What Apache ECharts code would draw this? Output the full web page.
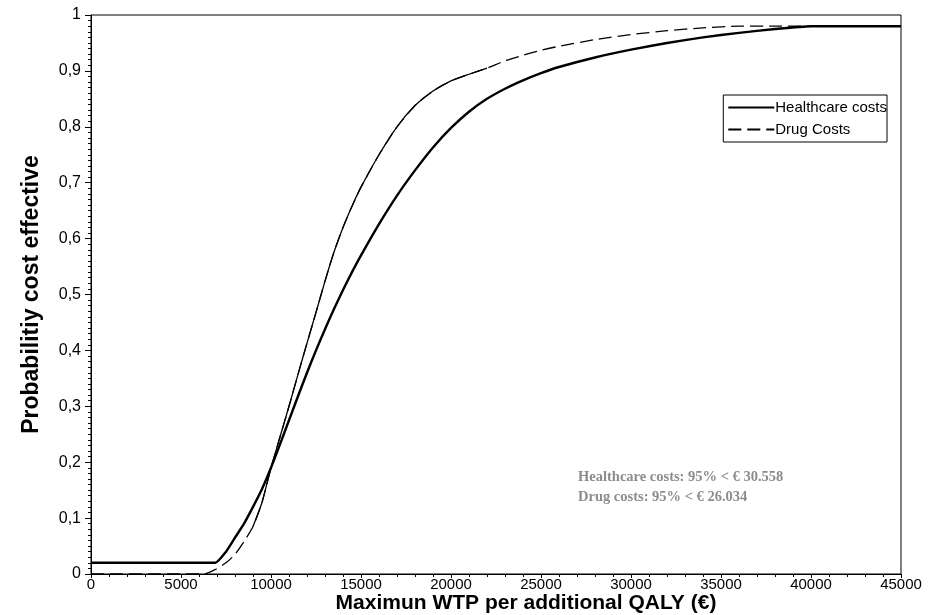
<!DOCTYPE html>
<html>
<head>
<meta charset="utf-8">
<script src="https://cdn.jsdelivr.net/npm/echarts@6/dist/echarts.min.js"></script>
<style>
  html, body { margin: 0; padding: 0; background: #fff; }
  #main { width: 935px; height: 615px; }
</style>
</head>
<body>
<div id="main"></div>
<script>
// WTP thresholds (euro) and probability of being cost effective
var wtp = [0, 5000, 6300, 6900, 7500, 8000, 8500, 9000, 9500, 10000, 10500, 11000, 11500, 12000,
  12500, 13000, 13500, 14000, 14500, 15000, 16000, 17000, 18000, 19000, 20000, 21000, 22000,
  23000, 24000, 25000, 26000, 28000, 30000, 32000, 34000, 36000, 38000, 40000, 45000];

var healthcare = [0.02, 0.02, 0.02, 0.02, 0.04, 0.065, 0.09, 0.12, 0.152, 0.19, 0.232, 0.275, 0.318, 0.36,
  0.40, 0.438, 0.474, 0.508, 0.54, 0.57, 0.626, 0.677, 0.722, 0.763, 0.798, 0.827, 0.85,
  0.868, 0.883, 0.896, 0.907, 0.924, 0.938, 0.95, 0.96, 0.968, 0.975, 0.98, 0.98];

var drug = [0, 0, 0, 0.008, 0.02, 0.035, 0.058, 0.085, 0.128, 0.19, 0.245, 0.3, 0.357, 0.413,
  0.468, 0.524, 0.576, 0.62, 0.658, 0.692, 0.75, 0.8, 0.838, 0.864, 0.882, 0.894, 0.905,
  0.918, 0.928, 0.937, 0.944, 0.956, 0.965, 0.972, 0.977, 0.98, 0.98, 0.98, 0.98];

var seriesNames = ['Healthcare costs', 'Drug Costs'];

function pairs(ys, from, to) {
  return wtp.map(function (x, i) {
    if (from != null && (x < from || x > to)) return [x, null];
    return [x, ys[i]];
  });
}

var sans = "'Liberation Sans', Arial, sans-serif";

var chart = echarts.init(document.getElementById('main'));
chart.setOption({
  animation: false,
  backgroundColor: '#fff',
  grid: {
    left: 91, right: 34, top: 15, bottom: 41,
    outerBoundsMode: 'none', containLabel: false,
    show: true, borderColor: '#000', borderWidth: 1
  },
  legend: {
    data: seriesNames,
    orient: 'vertical',
    right: 48, top: 95,
    itemWidth: 46, itemHeight: 12, itemGap: 7,
    padding: [5, 0, 5, 4],
    borderColor: '#000', borderWidth: 1,
    itemStyle: { opacity: 0 },
    textStyle: { fontFamily: sans, fontSize: 15, color: '#000', padding: [0, 0, 0, -4] }
  },
  xAxis: {
    type: 'value', min: 0, max: 45000, interval: 5000,
    name: 'Maximun WTP per additional QALY (€)',
    nameLocation: 'middle', nameGap: 19, nameMoveOverlap: false,
    nameTextStyle: { fontFamily: sans, fontWeight: 'bold', fontSize: 21, color: '#000', padding: [0, 0, 0, 60] },
    axisLine: { lineStyle: { color: '#000', width: 1 } },
    axisTick: { length: 4, lineStyle: { color: '#000' } },
    minorTick: { show: true, splitNumber: 5, length: 3, lineStyle: { color: '#000' } },
    axisLabel: {
      fontFamily: sans, fontSize: 15, color: '#000', margin: 3,
      formatter: function (v) { return String(v); }
    },
    splitLine: { show: false }
  },
  yAxis: {
    type: 'value', min: 0, max: 1, interval: 0.1,
    name: 'Probabilitiy cost effective',
    nameLocation: 'middle', nameGap: 48,
    nameTextStyle: { fontFamily: sans, fontWeight: 'bold', fontSize: 23, color: '#000' },
    axisLine: { lineStyle: { color: '#000', width: 1 } },
    axisTick: { length: 6, lineStyle: { color: '#000' } },
    minorTick: { show: true, splitNumber: 10, length: 3, lineStyle: { color: '#000' } },
    axisLabel: {
      fontFamily: sans, fontSize: 16, color: '#000', margin: 10,
      formatter: function (v) { return String(Math.round(v * 10) / 10).replace('.', ','); }
    },
    splitLine: { show: false }
  },
  series: [
    {
      name: seriesNames[0], type: 'line', symbol: 'none', smooth: 0.2,
      data: pairs(healthcare),
      lineStyle: { color: '#000', width: 2.4, join: 'round' },
      itemStyle: { color: '#000' }
    },
    {
      name: seriesNames[1], type: 'line', symbol: 'none', smooth: 0.2,
      data: pairs(drug),
      lineStyle: { color: '#000', width: 1.3, type: [13, 6] },
      itemStyle: { color: '#000' }
    },
    {
      // middle part of the drug curve is drawn solid in the original
      name: 'drugSolid', type: 'line', symbol: 'none', smooth: 0.2,
      data: pairs(drug, 9000, 22000), connectNulls: false,
      lineStyle: { color: '#000', width: 1.3, join: 'round' },
      silent: true
    }
  ],
  graphic: [
    {
      type: 'text', left: 578, top: 467,
      style: {
        text: 'Healthcare costs: 95% < € 30.558\nDrug costs: 95% < € 26.034',
        font: "bold 14.5px 'Liberation Serif', 'Times New Roman', serif",
        fill: '#8c8c8c', lineHeight: 20
      }
    }
  ]
});
</script>
</body>
</html>
